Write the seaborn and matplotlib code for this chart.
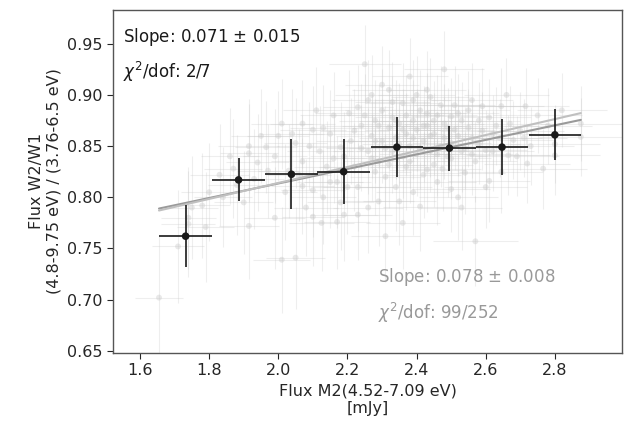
import numpy as np
import matplotlib
matplotlib.use("Agg")
import matplotlib.pyplot as plt
import seaborn as sns

sns.set_style("ticks")
plt.rcParams['font.family'] = ['DejaVu Sans']

# individual measurements (faint grey)
grey_flux = [1.655, 1.71, 1.74, 1.74, 1.79, 1.75, 1.80, 1.83, 1.86, 1.88, 1.90, 1.915, 1.915, 1.915, 1.94, 1.93, 1.95, 1.87,
             1.965, 1.99, 1.99, 2.01, 2.01, 2.05, 2.07, 2.07, 2.07, 2.10, 2.10, 2.10, 2.125, 2.17, 2.19, 2.23, 2.03, 2.05,
             2.12, 2.14, 2.15, 2.16, 2.18, 2.20, 2.205, 2.23, 2.13, 2.18, 2.02, 2.08, 2.00, 2.11, 2.17, 2.19, 2.21, 2.22, 2.15,
             2.24, 2.25, 2.26, 2.27, 2.27, 2.28, 2.29, 2.29, 2.30, 2.30, 2.31, 2.31, 2.32, 2.32, 2.33, 2.33, 2.34, 2.34,
             2.35, 2.35, 2.36, 2.36, 2.37, 2.37, 2.38, 2.38, 2.39, 2.39, 2.40, 2.40, 2.41, 2.41, 2.42, 2.42, 2.43, 2.43,
             2.44, 2.44, 2.45, 2.45, 2.46, 2.46, 2.47, 2.475, 2.48, 2.48, 2.49, 2.50, 2.50, 2.50, 2.51, 2.52, 2.52, 2.53,
             2.23, 2.26, 2.28, 2.36, 2.39, 2.43,
             2.54, 2.55, 2.56, 2.57, 2.57, 2.58, 2.59, 2.60, 2.61, 2.62, 2.63, 2.645, 2.645, 2.665, 2.68, 2.70, 2.715,
             2.72, 2.73, 2.75, 2.766, 2.78, 2.80, 2.80, 2.82, 2.875, 2.875, 2.56, 2.66, 2.60, 2.53,
             2.22, 2.24, 2.25, 2.26, 2.27, 2.28, 2.29, 2.30, 2.31, 2.32, 2.33, 2.34, 2.35, 2.36, 2.37, 2.38, 2.39,
             2.40, 2.41, 2.42, 2.43, 2.44, 2.45, 2.46, 2.47, 2.48, 2.49, 2.50, 2.51, 2.52, 2.53, 2.54, 2.55, 2.56,
             2.58, 2.59, 2.61, 2.62, 2.64, 2.67, 2.69, 2.71, 2.06, 2.09, 2.13, 2.16, 1.97, 2.04, 1.84, 1.78]
grey_ratio = [0.702, 0.752, 0.780, 0.774, 0.771, 0.790, 0.805, 0.822, 0.840, 0.812, 0.795, 0.850, 0.843, 0.772, 0.834, 0.818, 0.860, 0.828,
              0.849, 0.840, 0.780, 0.872, 0.739, 0.741, 0.872, 0.835, 0.811, 0.866, 0.807, 0.781, 0.775, 0.776, 0.783, 0.783, 0.826, 0.853,
              0.845, 0.830, 0.862, 0.880, 0.849, 0.810, 0.882, 0.888, 0.800, 0.795, 0.805, 0.790, 0.860, 0.885, 0.815, 0.840, 0.855, 0.830, 0.815,
              0.870, 0.930, 0.845, 0.860, 0.900, 0.875, 0.796, 0.835, 0.885, 0.855, 0.762, 0.820, 0.868, 0.905, 0.845, 0.878, 0.858, 0.810,
              0.796, 0.872, 0.840, 0.892, 0.862, 0.830, 0.918, 0.850, 0.875, 0.805, 0.866, 0.842, 0.791, 0.885, 0.855, 0.822, 0.827, 0.870,
              0.898, 0.845, 0.832, 0.862, 0.815, 0.880, 0.850, 0.828, 0.872, 0.925, 0.840, 0.879, 0.853, 0.808, 0.866, 0.882, 0.800, 0.845,
              0.810, 0.790, 0.825, 0.775, 0.895, 0.905,
              0.824, 0.868, 0.858, 0.835, 0.757, 0.875, 0.889, 0.846, 0.816, 0.862, 0.870, 0.825, 0.889, 0.841, 0.856, 0.865, 0.889,
              0.833, 0.850, 0.880, 0.828, 0.870, 0.852, 0.841, 0.885, 0.872, 0.859, 0.895, 0.900, 0.810, 0.790,
              0.865, 0.848, 0.880, 0.895, 0.838, 0.855, 0.870, 0.910, 0.848, 0.832, 0.893, 0.875, 0.852, 0.866, 0.880, 0.835, 0.858,
              0.900, 0.848, 0.870, 0.882, 0.860, 0.875, 0.842, 0.890, 0.858, 0.868, 0.838, 0.890, 0.860, 0.875, 0.848, 0.885, 0.842,
              0.852, 0.865, 0.878, 0.845, 0.858, 0.872, 0.840, 0.858, 0.822, 0.850, 0.868, 0.838, 0.826, 0.862, 0.800, 0.792]
grey_flux_err = [0.070, 0.075, 0.080, 0.078, 0.082, 0.076, 0.080, 0.085, 0.083, 0.084, 0.086, 0.088, 0.085, 0.087, 0.090, 0.086, 0.088, 0.084,
                 0.090, 0.092, 0.088, 0.090, 0.082, 0.085, 0.094, 0.090, 0.092, 0.095, 0.093, 0.090, 0.094, 0.096, 0.098, 0.100, 0.090, 0.092,
                 0.095, 0.096, 0.098, 0.097, 0.099, 0.100, 0.098, 0.102, 0.094, 0.097, 0.091, 0.093, 0.090, 0.095, 0.097, 0.099, 0.100, 0.101, 0.096,
                 0.102, 0.104, 0.101, 0.103, 0.105, 0.104, 0.102, 0.103, 0.106, 0.104, 0.100, 0.103, 0.106, 0.108, 0.105, 0.107, 0.106, 0.104,
                 0.105, 0.108, 0.107, 0.109, 0.108, 0.106, 0.110, 0.109, 0.110, 0.108, 0.111, 0.109, 0.108, 0.112, 0.110, 0.109, 0.110, 0.112,
                 0.113, 0.111, 0.112, 0.113, 0.111, 0.114, 0.113, 0.112, 0.115, 0.116, 0.113, 0.115, 0.114, 0.113, 0.116, 0.117, 0.114, 0.116,
                 0.101, 0.102, 0.104, 0.107, 0.110, 0.112,
                 0.117, 0.118, 0.117, 0.119, 0.123, 0.120, 0.121, 0.120, 0.119, 0.122, 0.123, 0.121, 0.124, 0.122, 0.124, 0.125, 0.126,
                 0.124, 0.126, 0.128, 0.126, 0.128, 0.130, 0.129, 0.131, 0.118, 0.120, 0.119, 0.123, 0.120, 0.116,
                 0.100, 0.102, 0.103, 0.104, 0.103, 0.105, 0.106, 0.107, 0.105, 0.106, 0.108, 0.107, 0.108, 0.109, 0.110, 0.109, 0.110,
                 0.112, 0.111, 0.112, 0.113, 0.112, 0.114, 0.113, 0.115, 0.114, 0.115, 0.116, 0.117, 0.116, 0.117, 0.118, 0.119, 0.118,
                 0.120, 0.121, 0.122, 0.121, 0.123, 0.124, 0.123, 0.125, 0.093, 0.095, 0.097, 0.098, 0.089, 0.093, 0.084, 0.081]
grey_ratio_err = [0.060, 0.055, 0.050, 0.052, 0.054, 0.050, 0.048, 0.050, 0.047, 0.049, 0.050, 0.046, 0.048, 0.052, 0.047, 0.049, 0.046, 0.048,
                  0.045, 0.046, 0.050, 0.044, 0.052, 0.050, 0.043, 0.045, 0.047, 0.043, 0.046, 0.048, 0.047, 0.046, 0.045, 0.044, 0.046, 0.044,
                  0.044, 0.045, 0.043, 0.042, 0.044, 0.046, 0.042, 0.041, 0.046, 0.046, 0.047, 0.047, 0.044, 0.042, 0.045, 0.043, 0.042, 0.043, 0.045,
                  0.041, 0.038, 0.042, 0.041, 0.039, 0.040, 0.044, 0.042, 0.040, 0.041, 0.045, 0.042, 0.040, 0.039, 0.041, 0.040, 0.040, 0.043,
                  0.043, 0.040, 0.041, 0.039, 0.040, 0.042, 0.038, 0.041, 0.040, 0.042, 0.040, 0.041, 0.043, 0.039, 0.040, 0.042, 0.041, 0.039,
                  0.038, 0.040, 0.041, 0.040, 0.042, 0.039, 0.040, 0.041, 0.039, 0.037, 0.040, 0.038, 0.040, 0.042, 0.039, 0.038, 0.042, 0.040,
                  0.043, 0.044, 0.042, 0.045, 0.039, 0.038,
                  0.040, 0.038, 0.039, 0.040, 0.044, 0.038, 0.037, 0.039, 0.040, 0.038, 0.038, 0.040, 0.037, 0.039, 0.038, 0.038, 0.037,
                  0.039, 0.038, 0.037, 0.039, 0.037, 0.038, 0.039, 0.036, 0.037, 0.038, 0.036, 0.036, 0.040, 0.041,
                  0.041, 0.042, 0.040, 0.039, 0.042, 0.041, 0.040, 0.038, 0.041, 0.042, 0.039, 0.040, 0.041, 0.040, 0.039, 0.041, 0.040,
                  0.038, 0.040, 0.039, 0.039, 0.040, 0.039, 0.041, 0.038, 0.040, 0.039, 0.040, 0.038, 0.039, 0.038, 0.040, 0.038, 0.040,
                  0.039, 0.038, 0.038, 0.039, 0.038, 0.037, 0.039, 0.038, 0.045, 0.043, 0.042, 0.044, 0.046, 0.044, 0.049, 0.051]

# binned averages (black)
bin_flux = [1.732, 1.885, 2.038, 2.189, 2.343, 2.495, 2.647, 2.800]
bin_ratio = [0.762, 0.817, 0.8225, 0.825, 0.849, 0.848, 0.849, 0.861]
bin_flux_err = [0.076, 0.076, 0.076, 0.076, 0.076, 0.076, 0.076, 0.076]
bin_ratio_err = [0.030, 0.021, 0.034, 0.032, 0.029, 0.022, 0.027, 0.025]

# linear fits: binned (0.071) and all points (0.078)
fit_slope = [0.071, 0.078]
fit_intercept = [0.6715, 0.658]

fig = plt.figure(figsize=(6.44, 4.33), dpi=100)
ax = fig.add_axes([0.1755, 0.185, 0.7903, 0.792])

ax.errorbar(grey_flux, grey_ratio, xerr=grey_flux_err, yerr=grey_ratio_err, fmt='none',
            ecolor='#c8c8c8', elinewidth=0.8, alpha=0.3, zorder=1)
sns.scatterplot(x=grey_flux, y=grey_ratio, color='#c8c8c8', s=18, alpha=0.4,
                edgecolor='none', ax=ax, zorder=2)

xfit = np.array([min(grey_flux), max(grey_flux)])
line_cols = ['#9a9a9a', '#c0c0c0']
for b, a, c in zip(fit_slope, fit_intercept, line_cols):
    sns.lineplot(x=xfit, y=a + b * xfit, color=c, lw=1.5, ax=ax, zorder=3)

ax.errorbar(bin_flux, bin_ratio, xerr=bin_flux_err, yerr=bin_ratio_err, fmt='none',
            ecolor='#1a1a1a', elinewidth=1.2, zorder=4)
sns.scatterplot(x=bin_flux, y=bin_ratio, color='#1a1a1a', s=30, edgecolor='none', ax=ax, zorder=5)

ax.text(0.02, 0.921, "Slope: 0.071 $\\pm$ 0.015", transform=ax.transAxes, fontsize=12,
        color='#1a1a1a', va='center')
ax.text(0.02, 0.819, "$\\chi^2$/dof: 2/7", transform=ax.transAxes, fontsize=12,
        color='#1a1a1a', va='center')
ax.text(0.52, 0.222, "Slope: 0.078 $\\pm$ 0.008", transform=ax.transAxes, fontsize=12,
        color='#999999', va='center')
ax.text(0.52, 0.117, "$\\chi^2$/dof: 99/252", transform=ax.transAxes, fontsize=12,
        color='#999999', va='center')

ax.set_xlim(1.522, 2.994)
ax.set_ylim(0.648, 0.983)
ax.set_xticks([1.6, 1.8, 2.0, 2.2, 2.4, 2.6, 2.8])
ax.set_yticks([0.65, 0.70, 0.75, 0.80, 0.85, 0.90, 0.95])
ax.tick_params(labelsize=11.5, colors='#262626', length=4)
for s in ax.spines.values():
    s.set_color('#555555')
    s.set_linewidth(1.0)
ax.set_xlabel("Flux M2(4.52-7.09 eV)\n[mJy]", fontsize=11.5, color='#262626')
ax.set_ylabel("Flux W2/W1\n(4.8-9.75 eV) / (3.76-6.5 eV)", fontsize=11.5, color='#262626')

fig.savefig("out.png", dpi=100)
